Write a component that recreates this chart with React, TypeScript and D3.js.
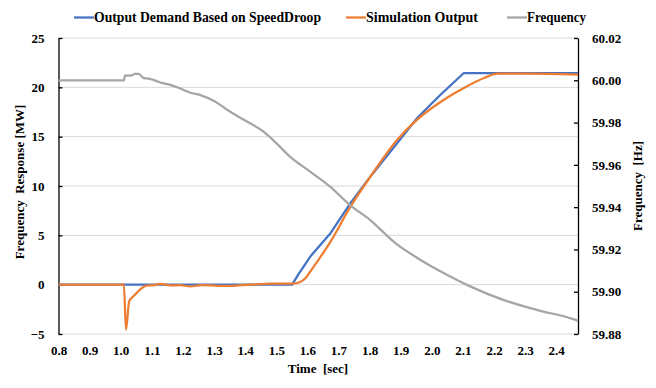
import React, { useEffect, useRef } from 'react';
import * as d3 from 'd3';

// series data
const demandTime = [0.8, 1.551, 1.57, 1.61, 1.675, 1.739, 1.803, 1.889, 1.953, 2.028, 2.103, 2.47];
const demandMW = [0, 0, 1.0, 2.87, 5.24, 8.28, 10.97, 14.36, 16.89, 19.25, 21.45, 21.45];

const simTime = [
  0.8, 1.010, 1.017, 1.027, 1.035, 1.046, 1.062, 1.073, 1.084, 1.101, 1.128, 1.16, 1.19, 1.224,
  1.26, 1.289, 1.32, 1.353, 1.385, 1.417, 1.45, 1.482, 1.546, 1.567, 1.589, 1.621, 1.675, 1.739,
  1.803, 1.889, 1.953, 2.039, 2.103, 2.168, 2.21, 2.3, 2.47,
];
const simMW = [
  0, 0, -4.56, -1.69, -1.35, -1.01, -0.5, -0.24, -0.1, -0.07, 0.07, -0.07, -0.05, -0.17,
  -0.05, -0.07, -0.12, -0.13, -0.05, 0, 0.05, 0.1, 0.1, 0.17, 0.5, 1.86, 4.39, 7.93,
  10.97, 14.69, 16.72, 18.74, 19.93, 20.94, 21.38, 21.38, 21.3,
];

const freqTime = [
  0.8, 1.011, 1.013, 1.035, 1.045, 1.058, 1.074, 1.09, 1.105, 1.128, 1.16, 1.19, 1.224, 1.256,
  1.30, 1.352, 1.40, 1.459, 1.50, 1.544, 1.609, 1.673, 1.737, 1.802, 1.878, 1.964, 2.05, 2.125,
  2.232, 2.34, 2.457, 2.47,
];
const freqHz = [
  60.0, 60.0, 60.0022, 60.0023, 60.003, 60.003, 60.001, 60.0008, 60.0002, 59.9989, 59.9978,
  59.9962, 59.9941, 59.993, 59.9902, 59.9851, 59.981, 59.9757, 59.9703, 59.9639, 59.9568,
  59.9497, 59.941, 59.9339, 59.9236, 59.915, 59.9079, 59.9024, 59.896, 59.8913, 59.8869, 59.8862,
];

const leftTicks = [-5, 0, 5, 10, 15, 20, 25];
const rightTicks = [59.88, 59.9, 59.92, 59.94, 59.96, 59.98, 60.0, 60.02];
const timeTicks = [0.8, 0.9, 1.0, 1.1, 1.2, 1.3, 1.4, 1.5, 1.6, 1.7, 1.8, 1.9, 2.0, 2.1, 2.2, 2.3, 2.4];

const seriesNames = ['Output Demand Based on SpeedDroop', 'Simulation Output', 'Frequency'];
const colors = ['#4472C4', '#ED7D31', '#A5A5A5'];

function App() {
  const ref = useRef<SVGSVGElement>(null);

  useEffect(() => {
    const width = 656, height = 388;
    const margin = { top: 38, right: 78, bottom: 54, left: 58.5 };
    const font = '"Liberation Serif", "Times New Roman", serif';

    const svg = d3.select(ref.current);
    svg.selectAll('*').remove();

    const x = d3.scaleLinear().domain([0.8, 2.47]).range([margin.left, width - margin.right]);
    const yL = d3.scaleLinear().domain([-5, 25]).range([height - margin.bottom, margin.top]);
    const yR = d3.scaleLinear().domain([59.88, 60.02]).range([height - margin.bottom, margin.top]);

    // gridlines
    svg.append('g')
      .selectAll('line')
      .data(leftTicks)
      .join('line')
      .attr('x1', margin.left)
      .attr('x2', width - margin.right)
      .attr('y1', d => yL(d))
      .attr('y2', d => yL(d))
      .attr('stroke', '#D9D9D9')
      .attr('stroke-width', 1);

    // left axis
    const gl = svg.append('g').attr('transform', `translate(${margin.left},0)`)
      .call(d3.axisLeft(yL).tickValues(leftTicks).tickSizeInner(-4).tickSizeOuter(0).tickPadding(14));
    gl.select('.domain').attr('stroke', '#000').attr('stroke-width', 1.3);
    gl.selectAll('.tick line').attr('stroke', '#000').attr('stroke-width', 1.3);

    // right axis
    const gr = svg.append('g').attr('transform', `translate(${width - margin.right},0)`)
      .call(d3.axisRight(yR).tickValues(rightTicks).tickFormat(d3.format('.2f')).tickSizeInner(-4).tickSizeOuter(0).tickPadding(14));
    gr.select('.domain').attr('stroke', '#000').attr('stroke-width', 1.3);
    gr.selectAll('.tick line').attr('stroke', '#000').attr('stroke-width', 1.3);

    // bottom axis labels only
    const gb = svg.append('g').attr('transform', `translate(0,${height - margin.bottom})`)
      .call(d3.axisBottom(x).tickValues(timeTicks).tickFormat(d3.format('.1f')).tickSize(0).tickPadding(12));
    gb.select('.domain').remove();

    svg.selectAll('.tick text')
      .attr('font-family', font)
      .attr('font-weight', 'bold')
      .attr('font-size', 13)
      .attr('fill', '#000');

    // lines
    const lineL = (ts: number[], vs: number[], curve: d3.CurveFactory) =>
      d3.line<number>().x((_, i) => x(ts[i])).y(d => yL(d)).curve(curve)(vs);
    const lineR = d3.line<number>().x((_, i) => x(freqTime[i])).y(d => yR(d)).curve(d3.curveMonotoneX);

    svg.append('path').attr('d', lineL(demandTime, demandMW, d3.curveLinear))
      .attr('fill', 'none').attr('stroke', colors[0]).attr('stroke-width', 2.25).attr('stroke-linejoin', 'round');
    svg.append('path').attr('d', lineL(simTime, simMW, d3.curveMonotoneX))
      .attr('fill', 'none').attr('stroke', colors[1]).attr('stroke-width', 2.25).attr('stroke-linejoin', 'round');
    svg.append('path').attr('d', lineR(freqHz))
      .attr('fill', 'none').attr('stroke', colors[2]).attr('stroke-width', 2.25).attr('stroke-linejoin', 'round');

    // axis titles
    const title = (t: string, tx: number, ty: number, rot: number) =>
      svg.append('text')
        .attr('transform', `translate(${tx},${ty}) rotate(${rot})`)
        .attr('text-anchor', 'middle')
        .attr('font-family', font)
        .attr('font-weight', 'bold')
        .attr('font-size', 13)
        .style('white-space', 'pre')
        .text(t);
    title('Frequency  Response [MW]', 24, 182, -90);
    title('Frequency  [Hz]', 642, 186, -90);
    title('Time  [sec]', 318, 373, 0);

    // legend
    const legendX = [74, 346, 507];
    const legendW = [227, 112, 59];
    const lg = svg.append('g');
    seriesNames.forEach((name, i) => {
      lg.append('line')
        .attr('x1', legendX[i]).attr('x2', legendX[i] + 20)
        .attr('y1', 17.5).attr('y2', 17.5)
        .attr('stroke', colors[i]).attr('stroke-width', 2.25);
      lg.append('text')
        .attr('x', legendX[i] + 20).attr('y', 22)
        .attr('font-family', font)
        .attr('font-weight', 'bold')
        .attr('font-size', 14)
        .attr('textLength', legendW[i])
        .attr('lengthAdjust', 'spacingAndGlyphs')
        .text(name);
    });
  }, []);

  return (
    <svg ref={ref} width={656} height={388}
      style={{ position: 'absolute', left: 0, top: 0, background: '#fff' }} />
  );
}

export default App;
